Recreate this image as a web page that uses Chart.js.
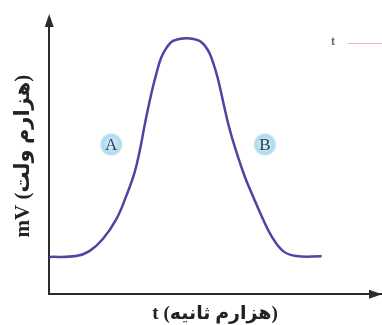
<!DOCTYPE html>
<html>
<head>
    <meta charset="utf-8">
    <title>mV - t</title>
    <script src="https://cdn.jsdelivr.net/npm/chart.js"></script>
    <style>
        html, body { margin: 0; padding: 0; background: #fff; }
        #box { width: 382px; height: 325px; }
    </style>
</head>
<body>
    <div id="box"><canvas id="curveChart"></canvas></div>
    <script>
        // curve (t, mV) in arbitrary units 0..100
        var timeValues = [0, 8.1, 12.1, 16.1, 20.2, 23.2, 25.7, 27.3, 29, 30.7, 32.2, 33.7, 35.3, 37.3, 41.3,
            45.3, 47.8, 49.3, 50.8, 52.4, 54.1, 56.2, 58.9, 61.4, 64, 67, 70.5, 74.5, 82.1];
        var voltValues = [13.5, 13.8, 15.6, 19.9, 27.1, 35.5, 43.9, 52, 62.6, 72.2, 79.4, 85.5, 89.1, 91.7, 92.7,
            91.7, 88.4, 84.2, 78.2, 69.8, 61, 52.3, 42.7, 35.5, 28.3, 21, 15.6, 13.8, 13.7];

        var phaseLabels = ["A", "B"];
        var phaseX = [18.7, 65];
        var phaseY = [54.2, 54.2];

        var xTitle = "t (هزارم ثانیه)";
        var yTitle = "mV (هزارم ولت)";

        var points = [];
        for (var i = 0; i < timeValues.length; i++) {
            points.push({ x: timeValues[i], y: voltValues[i] });
        }

        var axisColor = "#2b2b2b";
        var titleFont = "'Liberation Serif', 'DejaVu Sans'";

        // arrows at the end of both axes, A/B markers, stray mark top right
        var extras = {
            id: "extras",
            afterDraw: function (chart) {
                var ctx = chart.ctx;
                var area = chart.chartArea;
                var xs = chart.scales.x, ys = chart.scales.y;
                ctx.save();
                ctx.fillStyle = axisColor;
                // y arrow
                ctx.beginPath();
                ctx.moveTo(area.left, area.top - 4);
                ctx.lineTo(area.left - 4.5, area.top + 9);
                ctx.lineTo(area.left + 4.5, area.top + 9);
                ctx.closePath();
                ctx.fill();
                // x arrow
                ctx.beginPath();
                ctx.moveTo(area.right + 1, area.bottom);
                ctx.lineTo(area.right - 12, area.bottom - 4.5);
                ctx.lineTo(area.right - 12, area.bottom + 4.5);
                ctx.closePath();
                ctx.fill();

                for (var k = 0; k < phaseLabels.length; k++) {
                    var px = xs.getPixelForValue(phaseX[k]);
                    var py = ys.getPixelForValue(phaseY[k]);
                    var g = ctx.createRadialGradient(px, py, 2, px, py, 12);
                    g.addColorStop(0, "#d3edf8");
                    g.addColorStop(0.75, "#acdaee");
                    g.addColorStop(1, "rgba(172,218,238,0)");
                    ctx.fillStyle = g;
                    ctx.beginPath();
                    ctx.arc(px, py, 12, 0, Math.PI * 2);
                    ctx.fill();
                    ctx.fillStyle = "#2a434f";
                    ctx.font = "17px 'Liberation Serif'";
                    ctx.textAlign = "center";
                    ctx.textBaseline = "middle";
                    ctx.fillText(phaseLabels[k], px, py + 1);
                }

                ctx.fillStyle = "#666";
                ctx.font = "bold 12px 'Liberation Serif'";
                ctx.fillText("t", 333, 42);
                ctx.strokeStyle = "#f2b3c0";
                ctx.lineWidth = 1;
                ctx.beginPath();
                ctx.moveTo(348, 43.5);
                ctx.lineTo(382, 43.5);
                ctx.stroke();
                ctx.restore();
            }
        };

        new Chart("curveChart", {
            type: "line",
            data: {
                datasets: [{
                    data: points,
                    borderColor: "#4a46a2",
                    borderWidth: 2.5,
                    pointRadius: 0,
                    fill: false,
                    tension: 0.4
                }]
            },
            options: {
                responsive: true,
                maintainAspectRatio: false,
                animation: false,
                events: [],
                layout: { padding: { left: 11, top: 18, right: 1, bottom: 0 } },
                plugins: { legend: { display: false }, tooltip: { enabled: false } },
                scales: {
                    x: {
                        type: "linear", min: 0, max: 100,
                        grid: { display: false },
                        ticks: { display: false },
                        border: { color: axisColor, width: 2 },
                        title: {
                            display: true, text: xTitle, color: "#222",
                            font: { family: titleFont, size: 19, weight: "bold" },
                            padding: { top: 0, bottom: 0 }
                        }
                    },
                    y: {
                        type: "linear", min: 0, max: 100,
                        grid: { display: false },
                        ticks: { display: false },
                        border: { color: axisColor, width: 2 },
                        title: {
                            display: true, text: yTitle, color: "#222",
                            font: { family: titleFont, size: 21, weight: "bold" },
                            padding: { top: 0, bottom: 5 }
                        }
                    }
                }
            },
            plugins: [extras]
        });
    </script>
</body>
</html>
